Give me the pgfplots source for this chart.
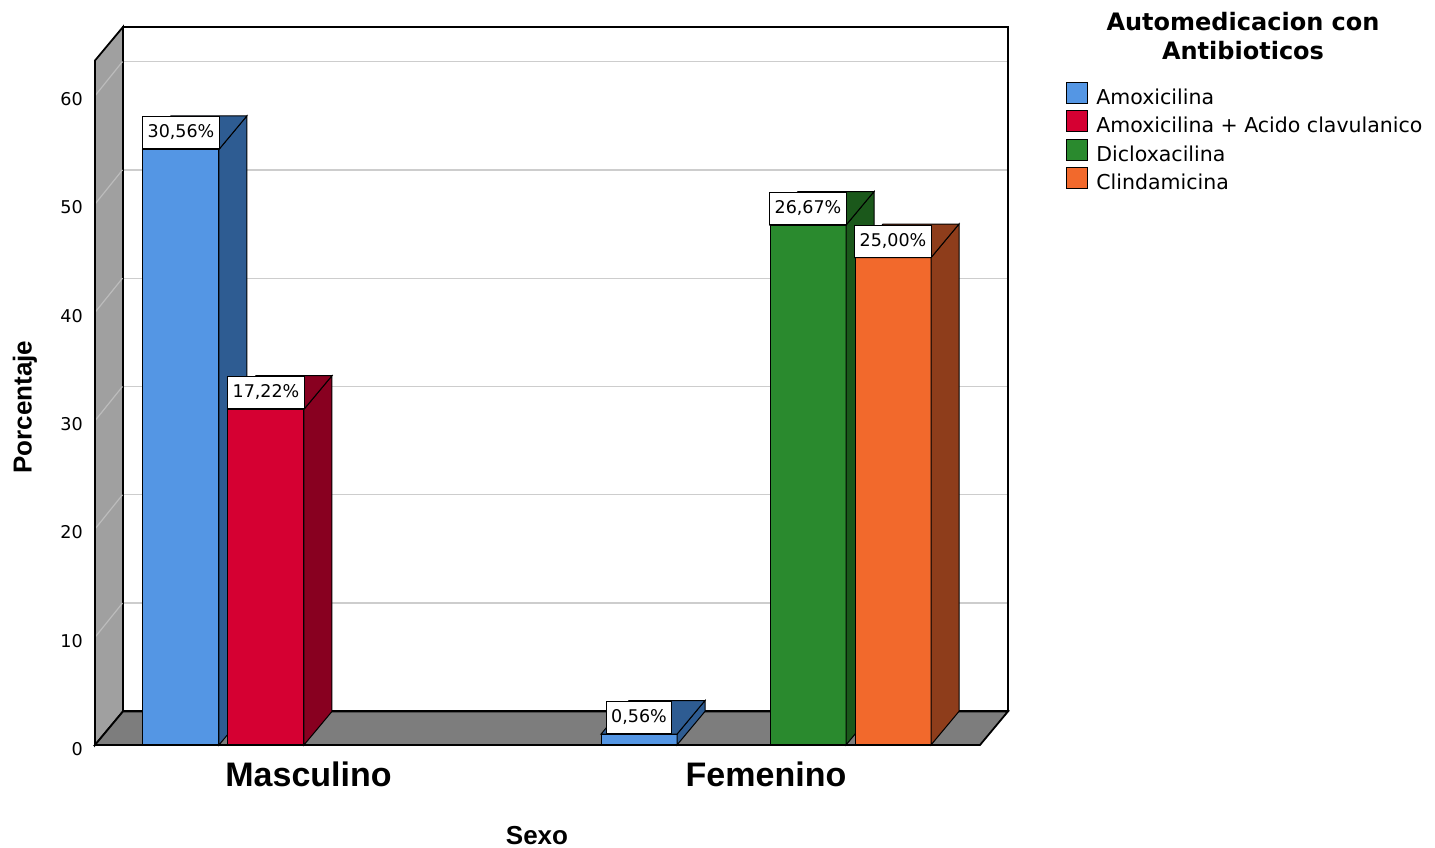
\documentclass[border=0pt]{standalone}
\usepackage{pgfplots}
\pgfplotsset{compat=1.18}
\usepackage{fontspec}
\setmainfont{DejaVu Sans}
\newfontfamily\arialfont{Liberation Sans}
\definecolor{blueF}{RGB}{84,150,228}
\definecolor{blueS}{RGB}{46,92,146}
\definecolor{redF}{RGB}{213,0,50}
\definecolor{redS}{RGB}{136,0,32}
\definecolor{greenF}{RGB}{42,138,46}
\definecolor{greenS}{RGB}{27,88,27}
\definecolor{orangeF}{RGB}{242,105,44}
\definecolor{orangeS}{RGB}{142,61,27}
\definecolor{wallL}{RGB}{160,160,160}
\definecolor{floorC}{RGB}{125,125,125}
\definecolor{gridC}{RGB}{205,205,205}
\definecolor{gridL}{RGB}{188,188,188}
\pgfplotsset{sq/.style={legend image code/.code={\draw[##1] (0pt,-2pt) rectangle (10.5pt,8.5pt);}}}
\begin{document}
\begin{tikzpicture}
\begin{axis}[
  scale only axis, width=456.5pt, height=359pt,
  xmin=95, xmax=1008, ymin=0, ymax=66.3,
  clip=false,
  axis line style={draw=none},
  major tick length=0pt,
  ytick={0,10,20,30,40,50,60},
  /pgf/number format/assume math mode=true,
  yticklabel style={font=\fontsize{8.8}{10}\selectfont, anchor=east, xshift=-2.6pt, yshift=-2pt},
  xtick={308.5,766},
  xticklabels={Masculino,Femenino},
  xticklabel style={font=\arialfont\bfseries\fontsize{17}{20}\selectfont, anchor=base, yshift=-21pt},
  legend style={at={(axis description cs:1.0635,0.924)}, anchor=north west, draw=none, fill=none,
    inner sep=0pt, row sep=0.5pt, column sep=4pt,
    font=\fontsize{10.25}{12}\selectfont,
    nodes={inner sep=0pt, text height=7.5pt, text depth=2.5pt}},
  legend cell align=left,
]
\addlegendimage{sq, fill=blueF, draw=black, line width=0.5pt}
\addlegendentry{Amoxicilina}
\addlegendimage{sq, fill=redF, draw=black, line width=0.5pt}
\addlegendentry{Amoxicilina + Acido clavulanico}
\addlegendimage{sq, fill=greenF, draw=black, line width=0.5pt}
\addlegendentry{Dicloxacilina}
\addlegendimage{sq, fill=orangeF, draw=black, line width=0.5pt}
\addlegendentry{Clindamicina}

% walls and floor
\fill[white] (axis cs:123,3.1) rectangle (axis cs:1008,66.3);
\draw[gridC, line width=0.6pt] (axis cs:123,13.1) -- (axis cs:1008,13.1);
\draw[gridC, line width=0.6pt] (axis cs:123,23.1) -- (axis cs:1008,23.1);
\draw[gridC, line width=0.6pt] (axis cs:123,33.1) -- (axis cs:1008,33.1);
\draw[gridC, line width=0.6pt] (axis cs:123,43.1) -- (axis cs:1008,43.1);
\draw[gridC, line width=0.6pt] (axis cs:123,53.1) -- (axis cs:1008,53.1);
\draw[gridC, line width=0.6pt] (axis cs:123,63.1) -- (axis cs:1008,63.1);
\draw[black, line width=0.9pt] (axis cs:123,3.1) rectangle (axis cs:1008,66.3);
\filldraw[fill=wallL, draw=black, line width=0.9pt] (axis cs:95,0) -- (axis cs:123,3.1) -- (axis cs:123,66.3) -- (axis cs:95,63.2) -- cycle;
\draw[gridL, line width=0.6pt] (axis cs:95.5,10) -- (axis cs:122.5,13.1);
\draw[gridL, line width=0.6pt] (axis cs:95.5,20) -- (axis cs:122.5,23.1);
\draw[gridL, line width=0.6pt] (axis cs:95.5,30) -- (axis cs:122.5,33.1);
\draw[gridL, line width=0.6pt] (axis cs:95.5,40) -- (axis cs:122.5,43.1);
\draw[gridL, line width=0.6pt] (axis cs:95.5,50) -- (axis cs:122.5,53.1);
\draw[gridL, line width=0.6pt] (axis cs:95.5,60) -- (axis cs:122.5,63.1);
\draw[black, line width=1.1pt] (axis cs:95,0) -- (axis cs:95,63.2);
\filldraw[fill=floorC, draw=black, line width=0.9pt] (axis cs:95,0) -- (axis cs:980,0) -- (axis cs:1008,3.1) -- (axis cs:123,3.1) -- cycle;
\draw[black, line width=1.2pt] (axis cs:95,0) -- (axis cs:980,0);

% Masculino - Amoxicilina (55)
\addplot[fill=blueF, draw=black, line width=0.5pt, forget plot] coordinates {(143,0) (219,0) (219,55) (143,55)} -- cycle;
\addplot[fill=blueS, draw=black, line width=0.5pt, forget plot] coordinates {(219,0) (247,3.1) (247,58.1) (219,55)} -- cycle;
\addplot[fill=blueS, draw=black, line width=0.5pt, forget plot] coordinates {(143,55) (171,58.1) (247,58.1) (219,55)} -- cycle;
% Masculino - Amoxicilina + Acido clavulanico (31)
\addplot[fill=redF, draw=black, line width=0.5pt, forget plot] coordinates {(228,0) (304,0) (304,31) (228,31)} -- cycle;
\addplot[fill=redS, draw=black, line width=0.5pt, forget plot] coordinates {(304,0) (332,3.1) (332,34.1) (304,31)} -- cycle;
\addplot[fill=redS, draw=black, line width=0.5pt, forget plot] coordinates {(228,31) (256,34.1) (332,34.1) (304,31)} -- cycle;
% Femenino - Amoxicilina (1)
\addplot[fill=blueF, draw=black, line width=0.5pt, forget plot] coordinates {(601,0) (677,0) (677,1) (601,1)} -- cycle;
\addplot[fill=blueS, draw=black, line width=0.5pt, forget plot] coordinates {(677,0) (705,3.1) (705,4.1) (677,1)} -- cycle;
\addplot[fill=blueS, draw=black, line width=0.5pt, forget plot] coordinates {(601,1) (629,4.1) (705,4.1) (677,1)} -- cycle;
% Femenino - Dicloxacilina (48)
\addplot[fill=greenF, draw=black, line width=0.5pt, forget plot] coordinates {(770,0) (846,0) (846,48) (770,48)} -- cycle;
\addplot[fill=greenS, draw=black, line width=0.5pt, forget plot] coordinates {(846,0) (874,3.1) (874,51.1) (846,48)} -- cycle;
\addplot[fill=greenS, draw=black, line width=0.5pt, forget plot] coordinates {(770,48) (798,51.1) (874,51.1) (846,48)} -- cycle;
% Femenino - Clindamicina (45)
\addplot[fill=orangeF, draw=black, line width=0.5pt, forget plot] coordinates {(855,0) (931,0) (931,45) (855,45)} -- cycle;
\addplot[fill=orangeS, draw=black, line width=0.5pt, forget plot] coordinates {(931,0) (959,3.1) (959,48.1) (931,45)} -- cycle;
\addplot[fill=orangeS, draw=black, line width=0.5pt, forget plot] coordinates {(855,45) (883,48.1) (959,48.1) (931,45)} -- cycle;

% data labels
\addplot[draw=none, mark=none, forget plot, nodes near coords, point meta=explicit symbolic,
  nodes near coords style={anchor=south, fill=white, draw=black, line width=0.5pt,
    inner xsep=2.5pt, inner ysep=4pt, text height=6.5pt, text depth=1.5pt,
    font=\fontsize{8.75}{10}\selectfont}]
  coordinates {(181,55) [30,56\%] (266,31) [17,22\%] (639,1) [0,56\%] (808,48) [26,67\%] (893,45) [25,00\%]};

% titles
\node[anchor=base, font=\bfseries\fontsize{12}{14}\selectfont] at (axis cs:1243,65.93) {Automedicacion con};
\node[anchor=base, font=\bfseries\fontsize{12}{14}\selectfont] at (axis cs:1243,63.34) {Antibioticos};
\node[rotate=90, font=\arialfont\bfseries\fontsize{13}{15}\selectfont] at (axis cs:25,31.2) {Porcentaje};
\node[anchor=base, font=\arialfont\bfseries\fontsize{13}{15}\selectfont] at (axis cs:537,-9.23) {Sexo};

\coordinate (BL) at (axis cs:0,-9.51);
\coordinate (TR) at (axis cs:1435,68.79);
\end{axis}
\pgfresetboundingbox
\path[use as bounding box] (BL) rectangle (TR);
\end{tikzpicture}
\end{document}
